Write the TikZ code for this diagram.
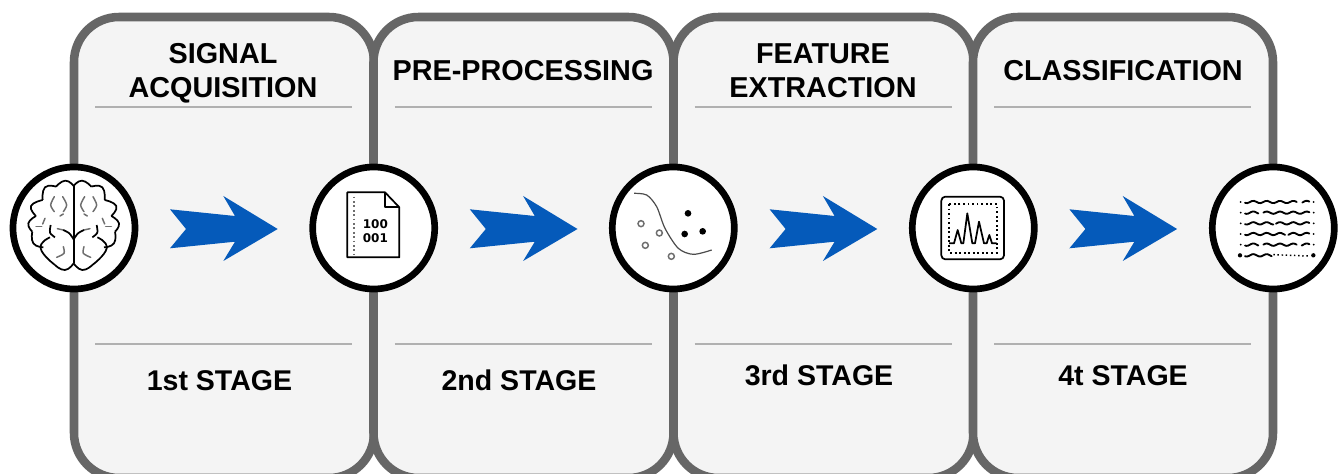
\documentclass[tikz,border=0pt]{standalone}
\usepackage{xcolor}
\usepackage{tikz}
\usepackage{fontspec}
\setmainfont{Liberation Sans}
\newfontfamily\digitfont{DejaVu Sans}
\definecolor{panelgray}{RGB}{102,102,102}
\definecolor{panelfill}{RGB}{244,244,244}
\definecolor{rulegray}{RGB}{176,176,176}
\definecolor{arrowblue}{RGB}{5,90,186}
\definecolor{icongray}{RGB}{110,110,110}
\tikzset{
  stagepanel/.style={draw=panelgray, fill=panelfill, line width=6.4pt, rounded corners=33.75pt,
    minimum width=225pt, minimum height=345.75pt, inner sep=0pt},
  stagecircle/.style={circle, draw=black, fill=white, line width=5pt, minimum size=91.5pt, inner sep=0pt},
  titletext/.style={font=\fontsize{21.6}{25.5}\selectfont\bfseries, align=center, anchor=base, inner sep=0pt},
  stagetext/.style={font=\fontsize{21.4}{25}\selectfont\bfseries, anchor=base, inner sep=0pt},
  rulenode/.style={draw=rulegray, line width=1.5pt},
  iconline/.style={draw=black, line width=1.3pt, line join=round},
  softline/.style={draw=icongray, line width=1.1pt, line cap=round},
  waveline/.style={draw=black, line width=1.4pt, line cap=round}
}
\newcommand{\halfbrain}{%
  \draw[iconline] plot[smooth, tension=0.9] coordinates {(221,108) (196,92) (168,110)};
  \draw[iconline] plot[smooth, tension=0.9] coordinates {(168,110) (135,112) (128,150)};
  \draw[iconline] plot[smooth, tension=0.9] coordinates {(128,150) (93,168) (108,198)};
  \draw[iconline] plot[smooth, tension=0.9] coordinates {(108,198) (85,220) (97,245)};
  \draw[iconline] plot[smooth, tension=0.9] coordinates {(97,245) (100,280) (130,292)};
  \draw[iconline] plot[smooth, tension=0.9] coordinates {(150,262) (122,295) (165,345)};
  \draw[iconline] plot[smooth, tension=0.9] coordinates {(165,345) (195,360) (221,340)};
  \draw[softline] plot[smooth] coordinates {(163,140) (152,165) (163,185)};
  \draw[softline] plot[smooth] coordinates {(188,140) (200,165) (190,185)};
  \draw[softline] (135,205) -- (128,222);
  \draw[softline] (180,198) -- (190,192);
  \draw[softline] (108,229) -- (125,229);
  \draw[softline] (172,236) -- (190,240);
  \draw[iconline] plot[smooth] coordinates {(152,225) (150,248) (165,262)};
  \draw[iconline] plot[smooth] coordinates {(190,240) (208,250) (221,268)};
  \draw[softline] plot[smooth] coordinates {(190,290) (192,310) (170,322)};
}

\begin{document}
\begin{tikzpicture}[x=0.75pt, y=-0.75pt]
    \clip (0,0) rectangle (1340,474);
    % Stage panels
    \node[stagepanel] (panelA) at (224,247.5) {};
    \node[stagepanel] (panelB) at (523.5,247.5) {};
    \node[stagepanel] (panelC) at (823.5,247.5) {};
    \node[stagepanel] (panelD) at (1123,247.5) {};
    % Rules
    \foreach \i in {0,1,2,3} {
        \draw[rulenode] (95+\i*299.8,107.5) -- (352+\i*299.8,107.5);
        \draw[rulenode] (95+\i*299.8,343.5) -- (352+\i*299.8,343.5);
    }
    % Titles
    \node[titletext] (titleA) at (223,97.7) {SIGNAL\\ACQUISITION};
    \node[titletext] (titleB) at (523,80.7) {PRE-PROCESSING};
    \node[titletext] (titleC) at (823,97.7) {FEATURE\\EXTRACTION};
    \node[titletext] (titleD) at (1123,80.7) {CLASSIFICATION};
    \node[stagetext] (stageA) at (219.5,390.5) {1st STAGE};
    \node[stagetext] (stageB) at (519,390.5) {2nd STAGE};
    \node[stagetext] (stageC) at (819,385) {3rd STAGE};
    \node[stagetext] (stageD) at (1123,385) {4t STAGE};
    % Blue arrows
    \foreach \i in {0,1,2,3} {
        \fill[arrowblue] (170+\i*299.8,209.3) -- (235+\i*299.8,216) -- (223.3+\i*299.8,196)
            -- (277.7+\i*299.8,229) -- (223.3+\i*299.8,261) -- (235+\i*299.8,241.7)
            -- (170+\i*299.8,248.3) -- (186+\i*299.8,229) -- cycle;
    }
    % Circles
    \node[stagecircle] (ringA) at (74,228) {};
    \node[stagecircle] (ringB) at (373.7,228) {};
    \node[stagecircle] (ringC) at (673.3,228) {};
    \node[stagecircle] (ringD) at (973.3,228) {};
    \node[stagecircle] (ringE) at (1273.3,228) {};
    % Brain
    \begin{scope}[shift={(0,150)}, x=0.25pt, y=-0.25pt]
        \halfbrain
        \begin{scope}[xshift=110.5pt, xscale=-1]
            \halfbrain
        \end{scope}
        \draw[iconline] (221,108) -- (221,340);
    \end{scope}
    % Binary file
    \begin{scope}[shift={(0,150)}, x=0.25pt, y=-0.25pt]
        \draw[iconline] (1042,127) -- (1155,127) -- (1198,172) -- (1198,322) -- (1042,322) -- cycle;
        \draw[iconline] (1155,127) -- (1155,172) -- (1198,172);
        \draw[icongray, line width=1.3pt, dotted] (1063,140) -- (1063,312);
        \node[font=\fontsize{9}{10.5}\selectfont\digitfont\bfseries, align=center, inner sep=0pt] (bits) at (1126,243) {100\\001};
    \end{scope}
    % Scatter with boundary
    \begin{scope}[shift={(600,150)}, x=0.25pt, y=-0.25pt]
        \draw[draw=black!70, line width=0.9pt, smooth] plot coordinates {(102,130) (140,135) (170,170) (195,235) (235,295) (280,313) (335,300)};
        \foreach \px/\py in {123/221,178/249,136/286,214/319}
            \draw[icongray, line width=1.1pt, fill=white] (\px,\py) circle (9);
        \foreach \px/\py in {264/190,254/252,308/244}
            \fill[black] (\px,\py) circle (10);
    \end{scope}
    % Spectrum
    \begin{scope}[shift={(600,150)}, x=0.25pt, y=-0.25pt]
        \draw[iconline, rounded corners=3pt] (1024,140) rectangle (1212,328);
        \draw[black, line width=1.4pt, dotted] (1047,162) rectangle (1190,308);
        \draw[iconline] (1047,280) -- (1062,280) -- (1073,240) -- (1084,280) -- (1090,280) -- (1102,190) -- (1117,280)
            -- (1125,280) -- (1137,215) -- (1152,280) -- (1160,280) -- (1168,255) -- (1176,280) -- (1190,280);
    \end{scope}
    % Text lines
    \begin{scope}[shift={(1190,150)}, x=0.25pt, y=-0.25pt]
        \foreach \rowy/\xa/\xb in {156/165/320, 156/337/358, 188/165/205, 188/220/358, 220/165/250, 220/258/358,
                252/165/285, 252/295/358, 284/165/205, 284/220/320, 284/335/358, 316/165/245}
            \draw[waveline] plot[domain=\xa:\xb, samples=24, smooth] (\x, {\rowy + 3.5*sin(\x*9)});
        \foreach \rowy in {156,188,220,252,284} {
            \fill[black] (152,\rowy) circle (3);
            \fill[black] (371,\rowy) circle (3);
        }
        \fill[black] (150,316) circle (6.5);
        \fill[black] (370,316) circle (6.5);
        \draw[black, line width=1.1pt, dotted] (250,314) -- (355,318);
    \end{scope}
\end{tikzpicture}
\end{document}
